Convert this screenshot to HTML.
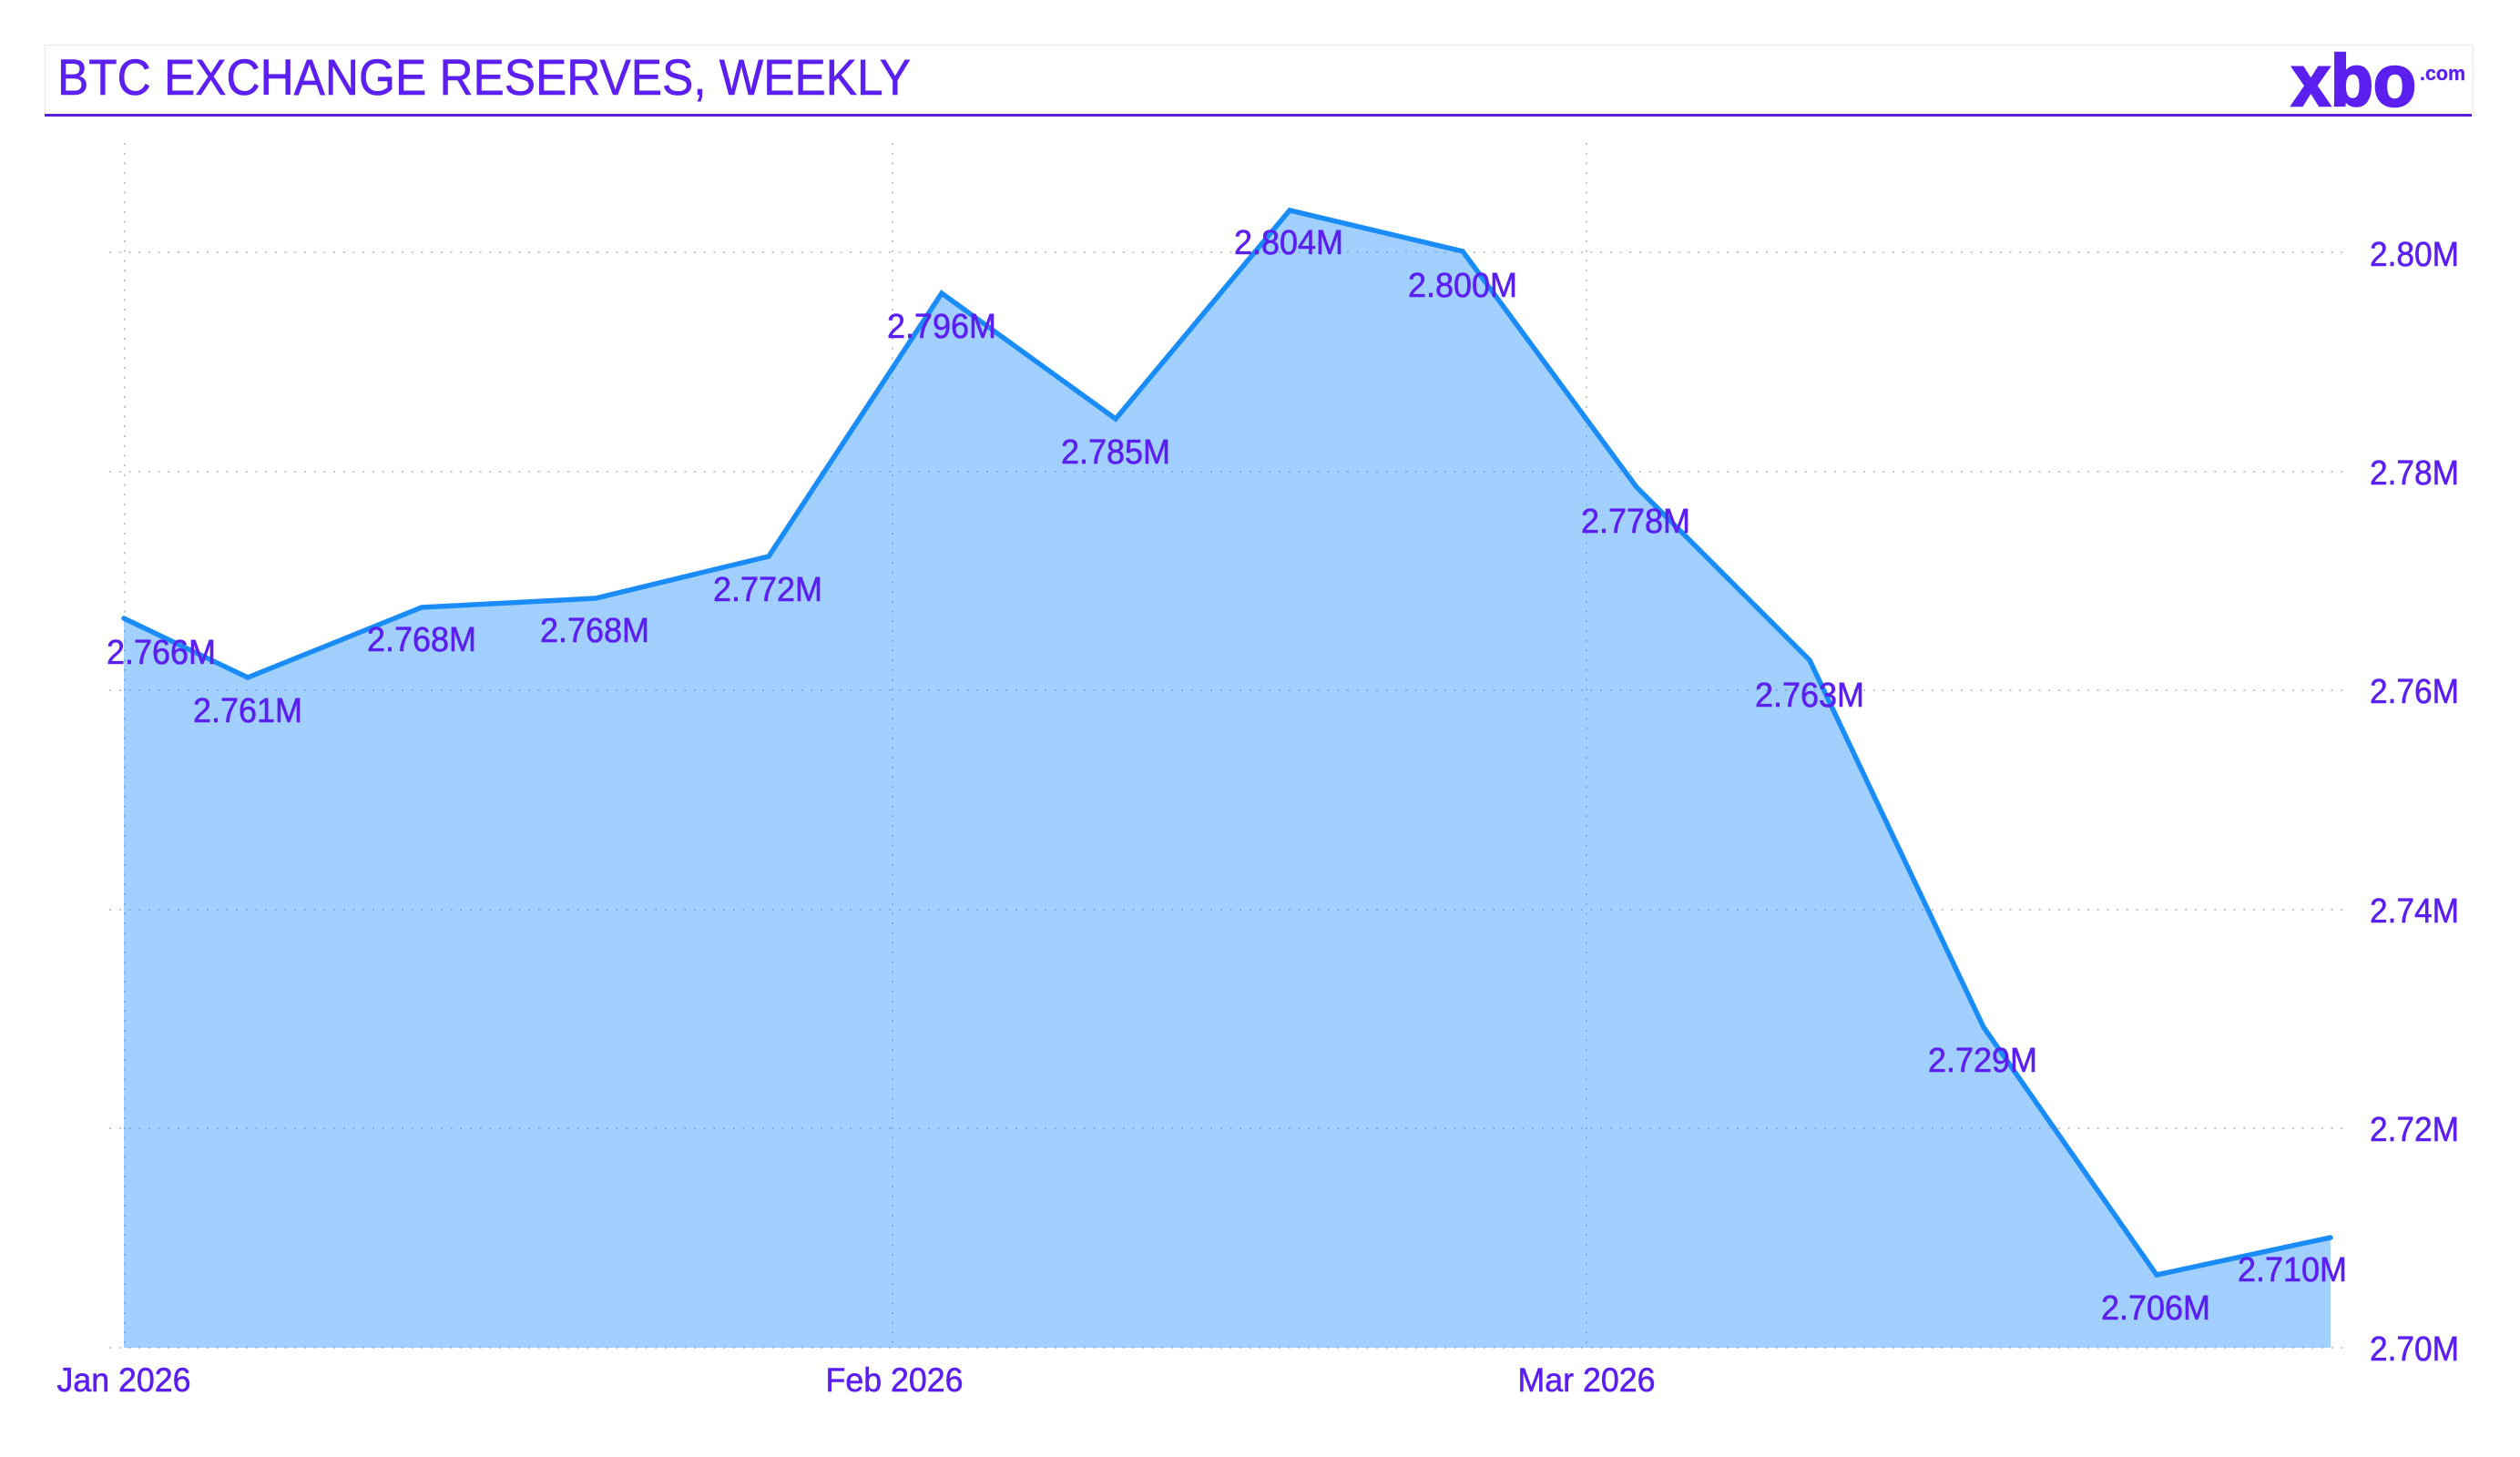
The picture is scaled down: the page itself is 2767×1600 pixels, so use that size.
<!DOCTYPE html>
<html>
<head>
<meta charset="utf-8">
<style>
  html, body { margin: 0; padding: 0; background: #ffffff; }
  body { width: 2767px; height: 1600px; overflow: hidden; }
  svg { display: block; }
  text { font-family: "Liberation Sans", "DejaVu Sans", sans-serif; fill: #5b1ff0; stroke: #5b1ff0; stroke-width: 0.6px; }
</style>
</head>
<body>
<svg width="2767" height="1600" viewBox="0 0 2767 1600" xmlns="http://www.w3.org/2000/svg">
  <rect x="0" y="0" width="2767" height="1600" fill="#ffffff"/>

  <!-- card / title box -->
  <rect x="49.5" y="49.5" width="2666" height="77" fill="none" stroke="#ececec" stroke-width="1.5"/>
  <line x1="49" y1="126.5" x2="2714" y2="126.5" stroke="#5a1fd6" stroke-width="3"/>
  <text x="63" y="104" font-size="56" textLength="937" lengthAdjust="spacingAndGlyphs">BTC EXCHANGE RESERVES, WEEKLY</text>

  <!-- logo -->
  <text x="2516" y="116" font-size="80" font-weight="bold" textLength="137" lengthAdjust="spacingAndGlyphs" style="fill:#5b1ff0;stroke:#5b1ff0;stroke-width:2.5px">xbo</text>
  <text x="2657" y="88" font-size="22" font-weight="bold" textLength="50" lengthAdjust="spacingAndGlyphs" style="stroke-width:0.3px">.com</text>

  <!-- gridlines -->
  <g stroke="#c4c4c4" stroke-width="2" stroke-dasharray="2 8.7" fill="none">
    <line x1="120" y1="277" x2="2580" y2="277"/>
    <line x1="120" y1="518" x2="2580" y2="518"/>
    <line x1="120" y1="758" x2="2580" y2="758"/>
    <line x1="120" y1="999" x2="2580" y2="999"/>
    <line x1="120" y1="1239" x2="2580" y2="1239"/>
    <line x1="120" y1="1480" x2="2580" y2="1480"/>
    <line x1="137" y1="157" x2="137" y2="1480"/>
    <line x1="980" y1="157" x2="980" y2="1480"/>
    <line x1="1742" y1="157" x2="1742" y2="1480"/>
  </g>

  <!-- area -->
  <polygon fill="rgba(30,144,255,0.42)" points="136,1480 136,679 272,744 463,667 654,657 844,611 1034,322 1225,460 1416,231 1606,276 1797,535 1987,725 2178,1128 2368,1400 2559,1359 2559,1480"/>
  <polyline fill="none" stroke="#1a8cf8" stroke-width="5.5" stroke-linejoin="miter" stroke-linecap="round" points="136,679 272,744 463,667 654,657 844,611 1034,322 1225,460 1416,231 1606,276 1797,535 1987,725 2178,1128 2368,1400 2559,1359"/>

  <!-- data labels -->
  <g font-size="38" text-anchor="middle">
    <text x="177" y="729" textLength="120" lengthAdjust="spacingAndGlyphs">2.766M</text>
    <text x="272" y="793" textLength="120" lengthAdjust="spacingAndGlyphs">2.761M</text>
    <text x="463" y="715" textLength="120" lengthAdjust="spacingAndGlyphs">2.768M</text>
    <text x="653" y="705" textLength="120" lengthAdjust="spacingAndGlyphs">2.768M</text>
    <text x="843" y="660" textLength="120" lengthAdjust="spacingAndGlyphs">2.772M</text>
    <text x="1034" y="371" textLength="120" lengthAdjust="spacingAndGlyphs">2.796M</text>
    <text x="1225" y="509" textLength="120" lengthAdjust="spacingAndGlyphs">2.785M</text>
    <text x="1415" y="279" textLength="120" lengthAdjust="spacingAndGlyphs">2.804M</text>
    <text x="1606" y="326" textLength="120" lengthAdjust="spacingAndGlyphs">2.800M</text>
    <text x="1796" y="585" textLength="120" lengthAdjust="spacingAndGlyphs">2.778M</text>
    <text x="1987" y="776" textLength="120" lengthAdjust="spacingAndGlyphs">2.763M</text>
    <text x="2177" y="1177" textLength="120" lengthAdjust="spacingAndGlyphs">2.729M</text>
    <text x="2367" y="1449" textLength="120" lengthAdjust="spacingAndGlyphs">2.706M</text>
    <text x="2517" y="1407" textLength="120" lengthAdjust="spacingAndGlyphs">2.710M</text>
  </g>

  <!-- y axis labels -->
  <g font-size="38">
    <text x="2602" y="292" textLength="98" lengthAdjust="spacingAndGlyphs">2.80M</text>
    <text x="2602" y="532" textLength="98" lengthAdjust="spacingAndGlyphs">2.78M</text>
    <text x="2602" y="772" textLength="98" lengthAdjust="spacingAndGlyphs">2.76M</text>
    <text x="2602" y="1013" textLength="98" lengthAdjust="spacingAndGlyphs">2.74M</text>
    <text x="2602" y="1253" textLength="98" lengthAdjust="spacingAndGlyphs">2.72M</text>
    <text x="2602" y="1494" textLength="98" lengthAdjust="spacingAndGlyphs">2.70M</text>
  </g>

  <!-- x axis labels -->
  <g font-size="37" text-anchor="middle">
    <text x="136" y="1528" textLength="147" lengthAdjust="spacingAndGlyphs">Jan 2026</text>
    <text x="982" y="1528" textLength="151" lengthAdjust="spacingAndGlyphs">Feb 2026</text>
    <text x="1742" y="1528" textLength="151" lengthAdjust="spacingAndGlyphs">Mar 2026</text>
  </g>
</svg>
</body>
</html>
